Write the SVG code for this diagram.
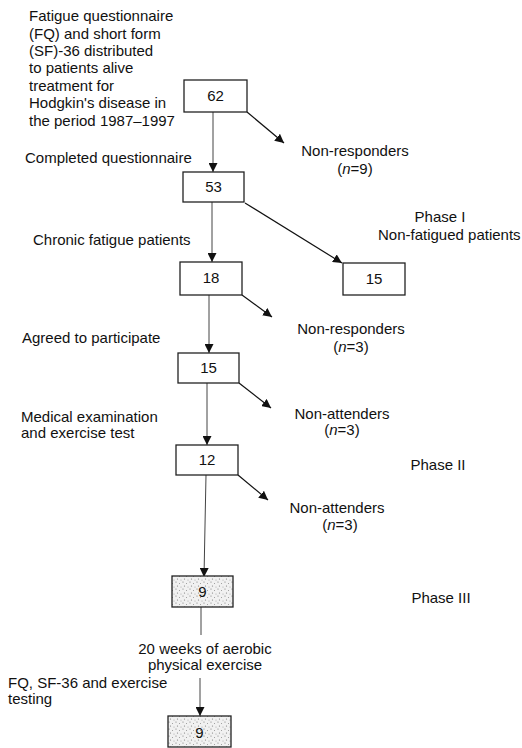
<svg xmlns="http://www.w3.org/2000/svg" width="522" height="748" viewBox="0 0 522 748">
<style>
  text { font-family: "Liberation Sans", Arial, sans-serif; font-size: 15px; fill: #111; }
  .c { text-anchor: middle; }
  .box { fill: #fff; stroke: #222; stroke-width: 1.3; }
  .shaded { fill: url(#stipple); stroke: #222; stroke-width: 1.3; }
  .v { stroke: #444; stroke-width: 1; fill: none; }
  .d { stroke: #111; stroke-width: 1.2; fill: none; }
</style>
<defs>
  <marker id="ah" viewBox="0 0 10 10" refX="10" refY="5" markerWidth="9" markerHeight="9" markerUnits="userSpaceOnUse" orient="auto">
    <path d="M0,0 L10,5 L0,10 Z" fill="#111"/>
  </marker>
  <pattern id="stipple" width="7" height="7" patternUnits="userSpaceOnUse">
    <rect width="7" height="7" fill="#f1f1f1"/>
    <circle cx="1" cy="1" r="0.6" fill="#777"/>
    <circle cx="4.5" cy="2.5" r="0.5" fill="#888"/>
    <circle cx="2.5" cy="5" r="0.6" fill="#777"/>
    <circle cx="6" cy="6" r="0.5" fill="#999"/>
  </pattern>
</defs>

<g id="connectors">
  <line class="v" x1="213" y1="112" x2="213" y2="172" marker-end="url(#ah)"/>
  <line class="d" x1="247" y1="112" x2="284" y2="143" marker-end="url(#ah)"/>
  <line class="v" x1="212" y1="202" x2="212" y2="262" marker-end="url(#ah)"/>
  <line class="d" x1="245" y1="203" x2="342" y2="263" marker-end="url(#ah)"/>
  <line class="v" x1="209" y1="295" x2="209" y2="353" marker-end="url(#ah)"/>
  <line class="d" x1="242" y1="295" x2="272" y2="317" marker-end="url(#ah)"/>
  <line class="v" x1="207" y1="383" x2="207" y2="445" marker-end="url(#ah)"/>
  <line class="d" x1="239" y1="383" x2="271" y2="408" marker-end="url(#ah)"/>
  <line class="v" x1="206" y1="475" x2="204" y2="577" marker-end="url(#ah)"/>
  <line class="d" x1="238" y1="475" x2="268" y2="500" marker-end="url(#ah)"/>
  <line class="v" x1="201" y1="607" x2="201" y2="635"/>
  <line class="v" x1="200" y1="678" x2="200" y2="716" marker-end="url(#ah)"/>
</g>

<g id="intro-text">
  <text x="29" y="21">Fatigue questionnaire</text>
  <text x="29" y="38.5">(FQ) and short form</text>
  <text x="29" y="56">(SF)-36 distributed</text>
  <text x="29" y="73">to patients alive</text>
  <text x="29" y="90.5">treatment for</text>
  <text x="29" y="108">Hodgkin's disease in</text>
  <text x="29" y="125.5">the period 1987–1997</text>
</g>

<g id="n62"><rect class="box" x="184" y="80" width="63" height="32"/><text class="c" x="215.5" y="101">62</text></g>
<g id="n53"><rect class="box" x="183" y="172" width="61" height="30"/><text class="c" x="213.5" y="192">53</text></g>
<g id="n18"><rect class="box" x="180" y="262" width="62" height="33"/><text class="c" x="211" y="283">18</text></g>
<g id="n15r"><rect class="box" x="343" y="263" width="62" height="32"/><text class="c" x="374" y="284">15</text></g>
<g id="n15"><rect class="box" x="178" y="353" width="61" height="30"/><text class="c" x="208.5" y="373">15</text></g>
<g id="n12"><rect class="box" x="176" y="445" width="62" height="30"/><text class="c" x="207" y="465">12</text></g>
<g id="n9a"><rect class="shaded" x="172" y="576" width="61" height="31"/><text class="c" x="202.5" y="597">9</text></g>
<g id="n9b"><rect class="shaded" x="168" y="716" width="63" height="31"/><text class="c" x="199.5" y="738">9</text></g>

<g id="labels">
  <text class="c" x="355" y="156">Non-responders</text>
  <text class="c" x="355" y="174">(<tspan font-style="italic">n</tspan>=9)</text>
  <text x="25" y="163">Completed questionnaire</text>
  <text class="c" x="440" y="222">Phase I</text>
  <text x="378" y="240">Non-fatigued patients</text>
  <text x="33" y="245">Chronic fatigue patients</text>
  <text class="c" x="351" y="334">Non-responders</text>
  <text class="c" x="351" y="352">(<tspan font-style="italic">n</tspan>=3)</text>
  <text x="22" y="343">Agreed to participate</text>
  <text x="21" y="422">Medical examination</text>
  <text x="21" y="438">and exercise test</text>
  <text class="c" x="342" y="419">Non-attenders</text>
  <text class="c" x="342" y="435">(<tspan font-style="italic">n</tspan>=3)</text>
  <text class="c" x="438" y="470">Phase II</text>
  <text class="c" x="337" y="513">Non-attenders</text>
  <text class="c" x="340" y="530">(<tspan font-style="italic">n</tspan>=3)</text>
  <text class="c" x="441" y="603">Phase III</text>
  <text class="c" x="205" y="654">20 weeks of aerobic</text>
  <text class="c" x="205" y="670">physical exercise</text>
  <text x="8" y="688">FQ, SF-36 and exercise</text>
  <text x="8" y="704">testing</text>
</g>
</svg>
